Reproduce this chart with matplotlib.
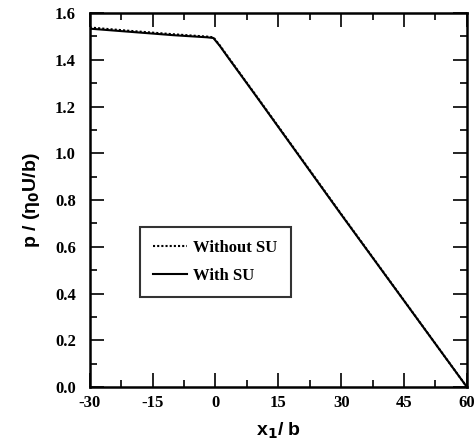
import numpy as np
import matplotlib
matplotlib.use('Agg')
import matplotlib.pyplot as plt
from matplotlib.ticker import MultipleLocator

# values
x_without = [-30, -20, -10, -2, -0.5, 1, 3, 10, 30, 60]
p_without = [1.538, 1.523, 1.509, 1.499, 1.496, 1.462, 1.412, 1.239, 0.740, 0.0]
x_with = [-30, -20, -10, -2, -0.5, 1, 3, 10, 30, 60]
p_with = [1.533, 1.519, 1.505, 1.496, 1.493, 1.460, 1.410, 1.237, 0.738, 0.0]

serif = {'family': 'Liberation Serif', 'weight': 'bold'}

fig = plt.figure(figsize=(4.75, 4.48), dpi=100)
ax = fig.add_axes([0.189, 0.136, 0.794, 0.835])

ax.plot(x_without, p_without, color='black', linestyle=(0, (1, 1)), linewidth=1.5, label='Without SU')
ax.plot(x_with, p_with, color='black', linestyle='-', linewidth=1.5, label='With SU')

ax.set_xlim(-30, 60)
ax.set_ylim(0, 1.6)
ax.xaxis.set_minor_locator(MultipleLocator(7.5))
ax.yaxis.set_minor_locator(MultipleLocator(0.1))
ax.tick_params(which='both', direction='in', top=True, right=True, width=1.2)
ax.tick_params(which='major', length=10)
ax.tick_params(which='minor', length=5)
ax.tick_params(axis='y', which='major', pad=10)
ax.tick_params(axis='x', which='major', pad=6)
ax.set_xticks([-30, -15, 0, 15, 30, 45, 60])
ax.set_xticklabels(['-30', '-15', '0', '15', '30', '45', '60'], fontdict=serif, fontsize=12)
yt = np.arange(0, 1.61, 0.2)
ax.set_yticks(yt)
ax.set_yticklabels(['%.1f' % v for v in yt], fontdict=serif, fontsize=12)
for s in ax.spines.values():
    s.set_linewidth(1.8)

ax.set_xlabel(r'x$_\mathbf{1}$/ b', fontsize=14, fontweight='bold', family='Liberation Sans', labelpad=7)
ax.set_ylabel(r'p / (η$_\mathbf{0}$U/b)', fontsize=14, fontweight='bold', family='Liberation Sans', labelpad=9)

leg = ax.legend(loc='upper left', bbox_to_anchor=(0.133, 0.428), borderaxespad=0,
                prop={'family': 'Liberation Serif', 'weight': 'bold', 'size': 12},
                fancybox=False, edgecolor='black', handlelength=2.0, handletextpad=0.4, borderpad=0.8, labelspacing=0.7)
leg.get_frame().set_linewidth(1.5)

fig.savefig('out.png', dpi=100)
